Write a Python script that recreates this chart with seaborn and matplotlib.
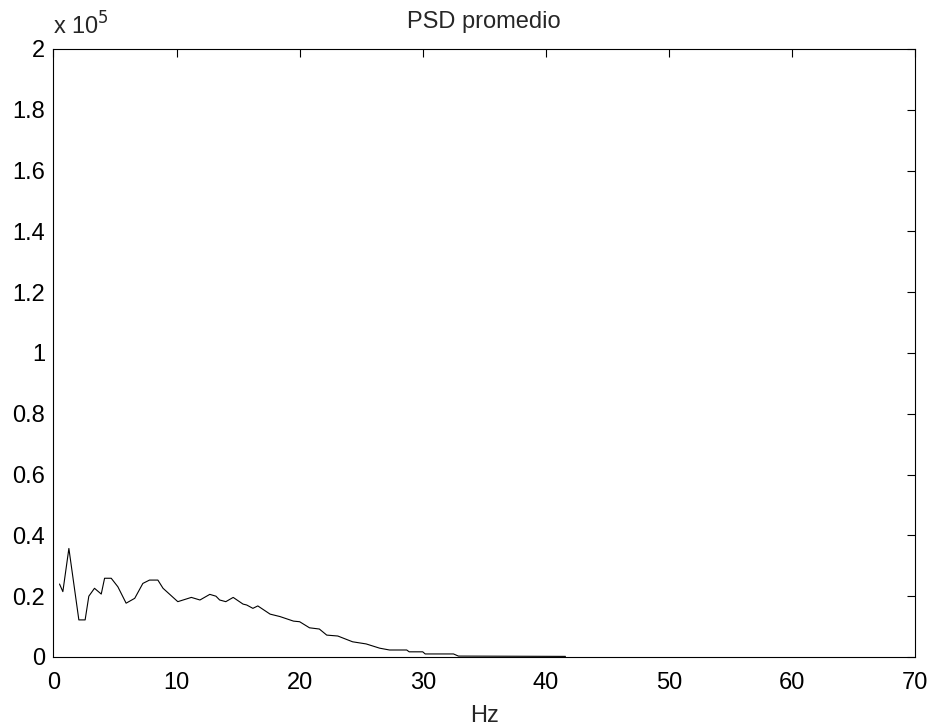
import matplotlib
matplotlib.use("Agg")
import matplotlib.pyplot as plt
import matplotlib.transforms as mtransforms
import seaborn as sns
import numpy as np

# frecuencias (Hz) y PSD promedio
hz = [0.49, 0.76, 1.25, 2.06, 2.57, 2.87, 3.33, 3.88, 4.15, 4.69, 5.23, 5.9,
      6.6, 7.26, 7.8, 8.48, 8.9, 10.1, 11.2, 11.9, 12.7, 13.2, 13.5, 14.0,
      14.6, 15.4, 15.7, 16.2, 16.6, 17.6, 18.4, 19.5, 20.0, 20.8, 21.6, 22.2,
      23.1, 24.3, 25.4, 26.5, 27.3, 28.7, 28.9, 30.0, 30.2, 32.5, 32.9, 41.6]
psd = [24000, 21500, 35700, 12200, 12200, 20000, 22600, 20700, 25900, 25900,
       23100, 17700, 19300, 24200, 25300, 25300, 22600, 18200, 19600, 18750,
       20600, 20000, 18750, 18200, 19600, 17400, 17100, 16000, 16800, 14100,
       13300, 11800, 11600, 9600, 9200, 7200, 6900, 5000, 4300, 2900, 2300,
       2300, 1700, 1700, 1000, 1000, 300, 200]

xticks = [0, 10, 20, 30, 40, 50, 60, 70]
yticks = [0, 0.2, 0.4, 0.6, 0.8, 1, 1.2, 1.4, 1.6, 1.8, 2]

sns.set_style("white")
plt.rcParams['font.family'] = ['Liberation Sans', 'DejaVu Sans']
fs = 17

fig = plt.figure(figsize=(9.32, 7.27), dpi=100)
ax = fig.add_axes([0.0574, 0.0963, 0.9244, 0.8363])

sns.lineplot(x=hz, y=np.array(psd) / 1e5, color='black', linewidth=0.8, ax=ax)

ax.set_xlim(0, 70)
ax.set_ylim(0, 2)
ax.set_xticks(xticks)
ax.set_yticks(yticks)
ax.set_yticklabels(['%g' % v for v in yticks])
ax.tick_params(direction='in', top=True, right=True, length=6, width=0.8,
               labelsize=fs, colors='black')
ax.tick_params(axis='x', pad=10.5)
ax.tick_params(axis='y', pad=6)
for s in ax.spines.values():
    s.set_color('black')
    s.set_linewidth(0.8)

ax.set_title('PSD promedio', fontsize=fs, pad=15)
ax.set_xlabel('Hz', fontsize=fs, labelpad=8)
off = mtransforms.ScaledTranslation(0, 14 / 100, fig.dpi_scale_trans)
ax.text(0.0, 1.0, r'x 10$^5$', transform=ax.transAxes + off, fontsize=fs,
        ha='left', va='baseline')

fig.savefig('out.png', dpi=100)
